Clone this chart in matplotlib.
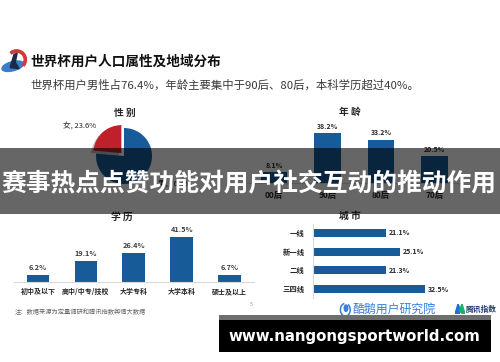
import matplotlib
matplotlib.use("Agg")
import matplotlib.pyplot as plt
from matplotlib import patches

plt.rcParams['font.family'] = ['Noto Sans CJK SC', 'DejaVu Sans']

# ---------------- data ----------------
gender_labels = ["女", "男"]
gender_values = [23.6, 76.4]
age_labels = ["00后", "90后", "80后", "70后"]
age_values = [8.1, 38.2, 33.2, 20.5]
edu_labels = ["初中及以下", "高中/中专/技校", "大学专科", "大学本科", "硕士及以上"]
edu_values = [6.2, 19.1, 26.4, 41.5, 6.7]
city_labels = ["一线", "新一线", "二线", "三四线"]
city_values = [21.1, 25.1, 21.3, 32.5]

title = "世界杯用户人口属性及地域分布"
subtitle = "世界杯用户男性占76.4%，年龄主要集中于90后、80后，本科学历超过40%。"
banner = "赛事热点点赞功能对用户社交互动的推动作用"
note = "注：数据来源为定量调研和腾讯指数舆情大数据"
url = "www.nangongsportworld.com"

BLUE = "#175b98"
RED = "#c0202b"
TXT = "#262626"

W, H = 500, 362
fig = plt.figure(figsize=(W / 100, H / 100), dpi=100)
fig.patch.set_facecolor("white")


def box(x0, y0, x1, y1):
    return [x0 / W, 1 - y1 / H, (x1 - x0) / W, (y1 - y0) / H]


def ftext(x, y, s, **kw):
    return fig.text(x / W, 1 - y / H, s, **kw)


# ---------------- header ----------------
ftext(30, 62, title, fontsize=9.8, fontweight="bold", color="#111111",
      ha="left", va="center")
ftext(30, 85, subtitle, fontsize=8.2, color="#3a3a3a", ha="left", va="center")

# small icon at top-left
icon_ax = fig.add_axes(box(1, 48, 27, 74))
icon_ax.set_xlim(0, 1)
icon_ax.set_ylim(0, 1)
icon_ax.axis("off")
icon_ax.add_patch(patches.Ellipse((0.45, 0.3), 0.85, 0.35, angle=15,
                                  color="#3d7cc9"))
icon_ax.add_patch(patches.Wedge((0.6, 0.55), 0.38, -40, 130, width=0.09,
                                color="#d23a3a"))
icon_ax.add_patch(patches.Polygon([[0.35, 0.25], [0.5, 0.75], [0.62, 0.8],
                                   [0.55, 0.45], [0.7, 0.2]],
                                  closed=True, color="#1c2a4a"))

# section titles
for x, y, s in [(125, 113, "性 别"), (350, 112, "年 龄"),
                (122, 217, "学 历"), (350, 216, "城 市")]:
    ftext(x, y, s, fontsize=7, fontweight="bold", color=TXT,
          ha="center", va="center")

# ---------------- pie (gender) ----------------
R = 28.0
cx, cy = 124, 156
L = 1.4
pie_ax = fig.add_axes(box(cx - L * R, cy - L * R, cx + L * R, cy + L * R))
wedges, _ = pie_ax.pie(gender_values, colors=[RED, BLUE], startangle=90,
                       counterclock=True, explode=[0.14, 0.0],
                       wedgeprops=dict(linewidth=0))
sh = patches.Shadow(wedges[0], -0.06, -0.06, color="#9a9a9a", alpha=0.6)
pie_ax.add_patch(sh)
pie_ax.set_xlim(-L, L)
pie_ax.set_ylim(-L, L)
pie_ax.set_aspect("equal")
pie_ax.axis("off")
pie_ax.text(-1.57, 1.04, f"{gender_labels[0]}, {gender_values[0]}%",
            fontsize=5.5, color=TXT, ha="center", va="center", clip_on=False)
pie_ax.text(1.2, -0.98, f"{gender_labels[1]}, {gender_values[1]}%",
            fontsize=5.5, color=TXT, ha="left", va="center", clip_on=False)

# ---------------- age bars ----------------
age_scale = 1.285  # px per percent
age_ax = fig.add_axes(box(247.25, 110, 461.25, 182.5))
age_ax.bar(range(len(age_values)), age_values, width=0.49, color=BLUE)
age_ax.set_xlim(-0.5, len(age_values) - 0.5)
age_ax.set_ylim(0, (182.5 - 110) / age_scale)
for s in ["top", "right", "left"]:
    age_ax.spines[s].set_visible(False)
age_ax.spines["bottom"].set_color("#d9d9d9")
age_ax.spines["bottom"].set_linewidth(0.8)
age_ax.set_yticks([])
age_ax.set_xticks(range(len(age_labels)))
age_ax.set_xticklabels(age_labels, fontsize=6, fontweight="bold", color=TXT)
age_ax.tick_params(axis="x", length=0, pad=6)
for i, v in enumerate(age_values):
    age_ax.annotate(f"{v}%", (i, v), xytext=(0, 5), textcoords="offset points",
                    ha="center", va="center", fontsize=5, color=TXT,
                    fontweight="bold")

# ---------------- education bars ----------------
edu_scale = 1.084
edu_ax = fig.add_axes(box(14, 225, 253.5, 282))
edu_ax.bar(range(len(edu_values)), edu_values, width=0.47, color=BLUE)
edu_ax.set_xlim(-0.5, len(edu_values) - 0.5)
edu_ax.set_ylim(0, (282 - 225) / edu_scale)
for s in ["top", "right", "left"]:
    edu_ax.spines[s].set_visible(False)
edu_ax.spines["bottom"].set_color("#d9d9d9")
edu_ax.spines["bottom"].set_linewidth(0.8)
edu_ax.set_yticks([])
edu_ax.set_xticks(range(len(edu_labels)))
edu_ax.set_xticklabels(edu_labels, fontsize=5, fontweight="bold", color=TXT)
edu_ax.tick_params(axis="x", length=0, pad=4.5)
for i, v in enumerate(edu_values):
    edu_ax.annotate(f"{v}%", (i, v), xytext=(0, 5.5), textcoords="offset points",
                    ha="center", va="center", fontsize=5.3, color="#404040",
                    fontweight="bold")

# ---------------- city horizontal bars ----------------
city_scale = 3.47
city_ax = fig.add_axes(box(312.5, 223.6, 312.5 + 45 * city_scale, 298.4))
city_ax.barh(range(len(city_values)), city_values, height=0.43, color=BLUE)
city_ax.set_ylim(len(city_values) - 0.5, -0.5)
city_ax.set_xlim(0, 45)
for s in ["top", "right", "bottom"]:
    city_ax.spines[s].set_visible(False)
city_ax.spines["left"].set_color("#d9d9d9")
city_ax.spines["left"].set_linewidth(0.8)
city_ax.set_xticks([])
city_ax.set_yticks(range(len(city_labels)))
city_ax.set_yticklabels(city_labels, fontsize=5.3, fontweight="bold", color=TXT)
city_ax.tick_params(axis="y", length=0, pad=5.5)
for i, v in enumerate(city_values):
    city_ax.annotate(f"{v}%", (v, i), xytext=(2, 0), textcoords="offset points",
                     ha="left", va="center", fontsize=5, color=TXT,
                     fontweight="bold")

# ---------------- footer ----------------
ftext(15, 312, note, fontsize=4.5, color="#666666", ha="left", va="center")
ftext(251, 304, "5", fontsize=4, color="#999999", ha="center", va="center")

logo_ax = fig.add_axes(box(339, 301, 353, 317))
logo_ax.set_xlim(0, 1)
logo_ax.set_ylim(0, 1)
logo_ax.axis("off")
logo_ax.add_patch(patches.Arc((0.45, 0.45), 0.7, 0.8, theta1=100, theta2=420,
                              color="#3b7dd8", linewidth=1.1))
logo_ax.add_patch(patches.Ellipse((0.5, 0.55), 0.25, 0.4, color="#3b7dd8"))
ftext(352, 309, "酷鹅用户研究院", fontsize=8.6, color="#3b7dd8",
      ha="left", va="center")
m_ax = fig.add_axes(box(455, 304, 465, 314))
m_ax.set_xlim(0, 1)
m_ax.set_ylim(0, 1)
m_ax.axis("off")
m_ax.add_patch(patches.Polygon([[0, 0], [0.3, 1], [0.55, 0.4], [0.4, 0]],
                               color="#1f6fd0"))
m_ax.add_patch(patches.Polygon([[0.45, 0.35], [0.7, 1], [1, 0], [0.75, 0]],
                               color="#17b26a"))
ftext(466, 309, "腾讯指数", fontsize=5.6, color="#1f3b70", fontweight="bold",
      ha="left", va="center")

# ---------------- overlay banner ----------------
fig.patches.append(patches.Rectangle((0, 1 - 214 / H), 1, (214 - 148) / H,
                                     transform=fig.transFigure,
                                     facecolor="black", alpha=0.6,
                                     edgecolor="none", zorder=5))
ftext(249, 184, banner, fontsize=17.8, fontweight="bold", color="white",
      ha="center", va="center", zorder=6)

# ---------------- url box ----------------
fig.patches.append(patches.Rectangle((219 / W, 1 - 320 / H), 272 / W, 5 / H,
                                     transform=fig.transFigure,
                                     facecolor="#6e6e6e", edgecolor="none",
                                     zorder=5))
fig.patches.append(patches.Rectangle((219 / W, 1 - 352 / H), 272 / W, 32 / H,
                                     transform=fig.transFigure,
                                     facecolor="black", edgecolor="none",
                                     zorder=5))
ftext(354, 336, url, fontsize=10.8, fontweight="bold", color="white",
      family="DejaVu Sans", ha="center", va="center", zorder=6)

fig.savefig("out.png", dpi=100)
